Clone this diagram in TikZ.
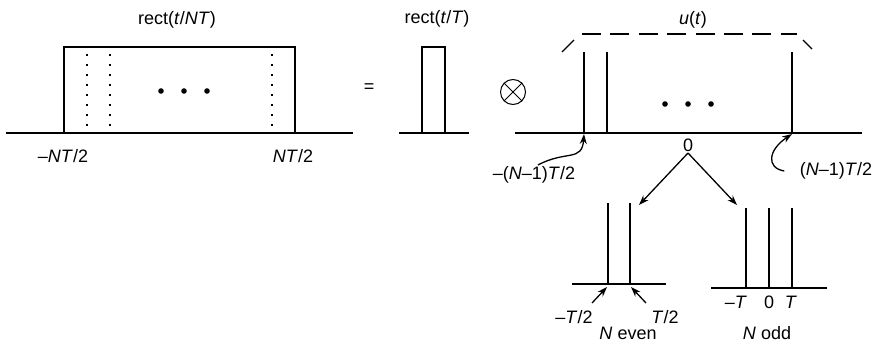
\documentclass[tikz,border=0pt]{standalone}
\usepackage{fontspec}
\setmainfont{Liberation Sans}
\usetikzlibrary{arrows.meta}
\begin{document}
\begin{tikzpicture}[x=1pt, y=-1pt, line width=1.3pt, font=\fontsize{18}{21}\selectfont,
  >={Stealth[length=10pt,width=7pt]},
  dot/.style={dash pattern=on 1.6pt off 8.4pt, line width=1.8pt},
  lbl/.style={inner sep=1pt}]
\useasboundingbox (0,0) rectangle (874,345);
% rect(t/NT)
\node[lbl] (rectNT) at (177,20) {rect(\textit{t}/\textit{NT})};
\draw (6,133) -- (353,133);
\draw (64,133) |- (295,47) -- (295,133);
\foreach \x in {87,110,272} \draw[dot] (\x,54) -- (\x,132);
\foreach \x in {161,184,207} \fill (\x,91) circle (2.8);
\node[lbl] (mNT) at (63,156) {–\textit{NT}/2};
\node[lbl] (pNT) at (293,156) {\textit{NT}/2};
% = rect(t/T)
\node[lbl] (eq) at (369,88) {=};
\node[lbl] (rectT) at (437,19) {rect(\textit{t}/\textit{T})};
\draw (399,133) -- (469,133);
\draw (422,133) |- (445,47) -- (445,133);
\node[circle, draw, line width=1pt, minimum size=25pt, inner sep=0pt] (conv) at (513,92) {};
\draw[line width=1pt] (conv.north west) -- (conv.south east) (conv.north east) -- (conv.south west);
% u(t)
\node[lbl] (ut) at (693,20) {\textit{u}(\textit{t})};
\draw[line width=1.1pt, dash pattern=on 19pt off 9.4pt] (582,34) -- (797,34);
\draw[line width=1.1pt] (562,52) -- (574,40) (803,40) -- (812,49);
\draw (515,133) -- (862,133);
\foreach \x in {584,607,792} \draw (\x,52) -- (\x,133);
\foreach \x in {665,688,711} \fill (\x,104) circle (2.8);
\coordinate (tipL) at (584,134);
\coordinate (tipR) at (792,134);
\node[lbl] (mN1) at (534,175) {–(\textit{N}–1)\textit{T}/2};
\node[lbl] (pN1) at (836,171) {(\textit{N}–1)\textit{T}/2};
\draw[->] ([xshift=4pt]mN1.north) .. controls (566,150) and (582,162) .. (tipL);
\draw[->] ([xshift=-14pt]pN1.west) .. controls (766,168) and (768,150) .. (tipR);
\node[lbl] (zero) at (688,145) {0};
\coordinate (evenTip) at (639,205);
\coordinate (oddTip) at (737,205);
\draw[->] (zero.south) -- (evenTip);
\draw[->] (zero.south) -- (oddTip);
% N even
\draw (572,284) -- (666,284);
\foreach \x in {608,630} \draw (\x,203) -- (\x,284);
\node[lbl] (mT2) at (574,317) {–\textit{T}/2};
\node[lbl] (pT2) at (665,317) {\textit{T}/2};
\draw[->] (592,303) -- (607,287);
\draw[->] (646,303) -- (631,287);
\node[lbl] (even) at (628,333) {\textit{N} even};
% N odd
\draw (711,288) -- (827,288);
\foreach \x in {746,769,792} \draw (\x,208) -- (\x,288);
\node[lbl] (mT) at (736,302) {–\textit{T}};
\node[lbl] (oz) at (769,302) {0};
\node[lbl] (pT) at (791,302) {\textit{T}};
\node[lbl] (odd) at (767,333) {\textit{N} odd};
\end{tikzpicture}
\end{document}
